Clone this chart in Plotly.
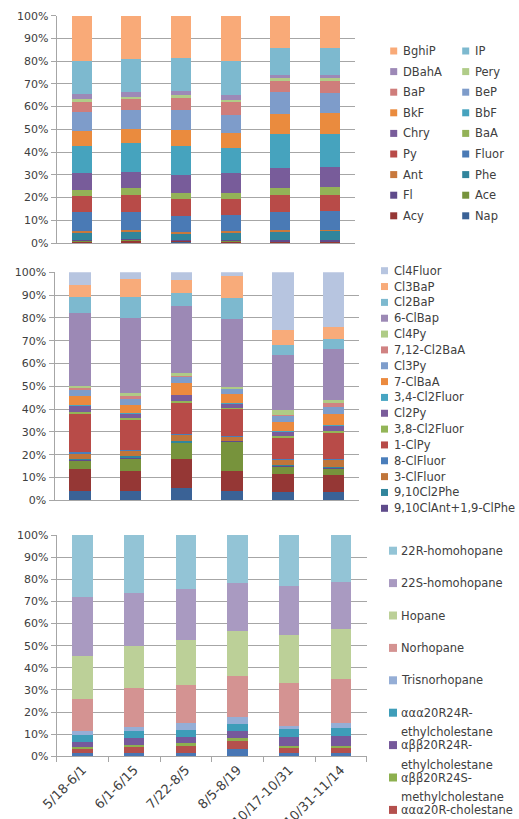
import plotly.graph_objects as go

W, H = 519, 819

periods = ["5/18-6/1", "6/1-6/15", "7/22-8/5", "8/5-8/19", "10/17-10/31", "10/31-11/14"]

# ---- PAHs (share of total, %) ----
nap = [0.4, 0.5, 1.0, 0.4, 0.2, 0.2]
acy = [0.2, 0.8, 0.1, 0.2, 0.5, 0.5]
ace = [0.6, 0.3, 0.1, 0.5, 0.1, 0.1]
fl = [0.2, 0.2, 0.1, 0.2, 0.4, 0.4]
phe = [3.3, 3.2, 3.0, 3.4, 3.8, 4.3]
ant = [0.6, 0.7, 0.5, 0.6, 0.7, 0.2]
fluor = [8.2, 7.8, 7.2, 7.2, 7.8, 8.3]
py = [7.3, 7.8, 7.4, 6.9, 7.8, 7.3]
baa = [2.4, 2.7, 2.7, 2.8, 2.8, 3.4]
chry = [7.4, 7.2, 8.0, 8.4, 9.0, 8.9]
bbf = [12.2, 12.6, 12.7, 11.3, 14.7, 14.2]
bkf = [6.5, 6.4, 6.9, 6.4, 8.8, 9.4]
bep = [8.2, 8.3, 8.8, 7.9, 9.7, 8.7]
bap = [5.0, 4.8, 5.4, 5.8, 5.0, 5.5]
pery = [0.8, 0.9, 1.0, 0.9, 1.1, 1.0]
dbaha = [2.2, 2.1, 2.0, 2.0, 1.5, 1.5]
ip = [14.6, 14.8, 14.6, 15.2, 12.1, 12.1]
bghip = [19.9, 18.9, 18.5, 19.9, 14.0, 14.0]

pah_names = ["Nap", "Acy", "Ace", "Fl", "Phe", "Ant", "Fluor", "Py", "BaA", "Chry",
             "BbF", "BkF", "BeP", "BaP", "Pery", "DBahA", "IP", "BghiP"]
pah_values = [nap, acy, ace, fl, phe, ant, fluor, py, baa, chry,
              bbf, bkf, bep, bap, pery, dbaha, ip, bghip]
pah_colors = ["#3A6296", "#953735", "#77933C", "#5F4B8B", "#31859C", "#C8783C",
              "#4A7AB5", "#B84B48", "#93B257", "#785C9A", "#46A3BE", "#EA8B3E",
              "#7E9CCA", "#CF7D7B", "#B0CC88", "#9D89B7", "#7DB9CF", "#F9AA78"]

# ---- Chlorinated PAHs (share of total, %) ----
cl_a = [4.1, 4.1, 5.6, 4.1, 3.7, 3.7]
cl_b = [9.8, 8.9, 12.7, 8.9, 7.8, 7.3]
cl_c = [3.5, 5.2, 6.7, 12.7, 3.3, 2.9]
cl_910ant_19phe = [0.2, 0.5, 0.3, 0.2, 0.2, 0.2]
cl2_910phe = [0.3, 0.6, 0.8, 0.3, 0.5, 0.5]
cl_3fluor = [2.7, 2.3, 2.7, 1.5, 2.3, 3.2]
cl_8fluor = [0.4, 0.5, 0.3, 0.5, 0.2, 0.2]
cl_1py = [17.0, 13.4, 13.7, 11.8, 9.5, 11.6]
cl2_38fluor = [0.8, 0.6, 0.9, 0.6, 0.6, 0.7]
cl2_py = [2.5, 1.8, 2.5, 1.8, 2.0, 2.3]
cl2_34fluor = [0.3, 0.2, 0.2, 0.2, 0.2, 0.4]
cl_7baa = [4.1, 3.6, 4.9, 4.2, 4.2, 4.8]
cl3_py = [2.9, 2.6, 2.7, 2.0, 2.4, 3.0]
cl2_712baa = [0.5, 1.4, 0.3, 0.2, 0.6, 1.9]
cl4_py = [0.9, 1.4, 1.5, 0.6, 1.9, 1.1]
cl_6bap = [32.0, 32.7, 29.6, 29.8, 24.3, 22.5]
cl2_bap = [7.3, 9.3, 5.3, 9.2, 4.4, 4.4]
cl3_bap = [5.3, 8.0, 5.9, 9.8, 6.5, 5.4]
cl4_fluor = [5.4, 2.9, 3.4, 1.6, 25.4, 23.9]

clpah_names = ["Series 1", "Series 2", "Series 3", "9,10ClAnt+1,9-ClPhe", "9,10Cl2Phe",
               "3-ClFluor", "8-ClFluor", "1-ClPy", "3,8-Cl2Fluor", "Cl2Py", "3,4-Cl2Fluor",
               "7-ClBaA", "Cl3Py", "7,12-Cl2BaA", "Cl4Py", "6-ClBap", "Cl2BaP", "Cl3BaP",
               "Cl4Fluor"]
clpah_values = [cl_a, cl_b, cl_c, cl_910ant_19phe, cl2_910phe, cl_3fluor, cl_8fluor,
                cl_1py, cl2_38fluor, cl2_py, cl2_34fluor, cl_7baa, cl3_py, cl2_712baa,
                cl4_py, cl_6bap, cl2_bap, cl3_bap, cl4_fluor]
clpah_colors = ["#3A6296", "#953735", "#77933C", "#5F4B8B", "#31859C", "#C0753A",
                "#4A7EBB", "#B84B48", "#93B557", "#7A5C9B", "#47A5C2", "#EB8A3F",
                "#7E9DCB", "#D08282", "#AFCB86", "#9C89B5", "#7DB9CF", "#F8AB7A",
                "#B7C5E0"]
clpah_legend_count = 16

# ---- Steranes and hopanes (share of total, %) ----
ster_a = [1.6, 1.6, 1.6, 3.2, 1.5, 1.5]
aaa20r_chol = [1.8, 2.6, 3.1, 3.9, 2.7, 2.4]
abb20r24s_methyl = [0.9, 0.9, 1.2, 1.0, 0.6, 0.9]
abb20r24r_ethyl = [2.3, 3.2, 3.0, 3.2, 3.9, 4.5]
aaa20r24r_ethyl = [3.2, 3.0, 3.0, 3.4, 3.6, 3.6]
trisnorhopane = [1.5, 1.8, 3.0, 2.9, 1.5, 2.0]
norhopane = [14.4, 17.6, 17.5, 18.8, 19.5, 19.9]
hopane = [19.6, 19.1, 20.2, 20.1, 21.5, 22.7]
homohopane_22s = [26.7, 23.8, 23.0, 21.7, 22.3, 21.3]
homohopane_22r = [28.0, 26.4, 24.4, 21.8, 22.9, 21.2]

hop_names = ["Series 1", "ααα20R-cholestane", "αββ20R24S-\nmethylcholestane",
             "αββ20R24R-\nethylcholestane", "ααα20R24R-\nethylcholestane",
             "Trisnorhopane", "Norhopane", "Hopane", "22S-homohopane", "22R-homohopane"]
hop_values = [ster_a, aaa20r_chol, abb20r24s_methyl, abb20r24r_ethyl, aaa20r24r_ethyl,
              trisnorhopane, norhopane, hopane, homohopane_22s, homohopane_22r]
hop_colors = ["#4876B4", "#B4504D", "#8DB04F", "#76599B", "#3E9DB9",
              "#95AED6", "#D49392", "#BCD098", "#A99AC1", "#93C4D6"]
hop_legend_count = 9

FONT = "DejaVu Sans"
TEXT = "#404040"
GRID = "#A6A6A6"


def px_x(v):
    return v / W


def px_y(v):
    return 1 - v / H


fig = go.Figure()

panels = [
    # names, values, colors, axis suffix, bar width, x px range, y px range
    (pah_names, pah_values, pah_colors, "", 0.40, (56.7, 355.0), (15.7, 243.0)),
    (clpah_names, clpah_values, clpah_colors, "2", 0.42, (54.5, 359.0), (272.3, 500.3)),
    (hop_names, hop_values, hop_colors, "3", 0.39, (56.7, 366.7), (535.0, 756.3)),
]

for names, values, colors, sfx, bw, (xl, xr), (yt, yb) in panels:
    for name, vals, col in zip(names, values, colors):
        fig.add_trace(go.Bar(
            x=periods, y=vals, name=name.replace("\n", ""),
            marker=dict(color=col, line=dict(width=0)),
            width=bw, showlegend=False,
            xaxis="x" + sfx, yaxis="y" + sfx,
        ))
    xa = dict(
        domain=[px_x(xl), px_x(xr)], anchor="y" + sfx, type="category",
        showline=True, linecolor=GRID, linewidth=1, showgrid=False,
        automargin=False, fixedrange=True,
    )
    if sfx == "3":
        xa.update(ticks="outside", tickson="boundaries", ticklen=5, tickcolor=GRID,
                  tickangle=-45, tickfont=dict(family=FONT, size=13, color=TEXT))
    else:
        xa.update(showticklabels=False, ticks="")
    ya = dict(
        domain=[px_y(yb), px_y(yt)], anchor="x" + sfx, range=[0, 100], dtick=10,
        ticksuffix="%", showline=True, linecolor=GRID, linewidth=1,
        showgrid=True, gridcolor=GRID, gridwidth=1, zeroline=False,
        ticks="outside", ticklen=5, tickcolor=GRID,
        tickfont=dict(family=FONT, size=11, color=TEXT),
        automargin=False, fixedrange=True,
    )
    fig.layout["xaxis" + sfx] = xa
    fig.layout["yaxis" + sfx] = ya


def add_legend(names, colors, x0, y0, dy, ncol=1, dx=0.0, sq=7, gap=4.5,
               size=11.5, line_gap=19.5):
    """Key drawn as colour squares plus labels, last series first."""
    for k, (name, col) in enumerate(zip(names[::-1], colors[::-1])):
        r, c = divmod(k, ncol)
        cx = x0 + c * dx
        cy = y0 + r * dy
        fig.add_shape(type="rect", xref="paper", yref="paper",
                      x0=px_x(cx), x1=px_x(cx + sq),
                      y0=px_y(cy - sq / 2), y1=px_y(cy + sq / 2),
                      fillcolor=col, line=dict(width=0), layer="above")
        for j, line in enumerate(name.split("\n")):
            fig.add_annotation(x=px_x(cx + sq + gap), y=px_y(cy + j * line_gap),
                               xref="paper", yref="paper", text=line,
                               showarrow=False, xanchor="left", yanchor="middle",
                               borderpad=0,
                               font=dict(family=FONT, size=size, color=TEXT))


add_legend(pah_names, pah_colors, x0=390.2, y0=51.0, dy=20.6, ncol=2, dx=72.0)
add_legend(clpah_names[-clpah_legend_count:], clpah_colors[-clpah_legend_count:],
           x0=381.0, y0=270.7, dy=15.84)
add_legend(hop_names[-hop_legend_count:], hop_colors[-hop_legend_count:],
           x0=389.0, y0=550.7, dy=32.4, sq=8, gap=3.0)

fig.update_layout(
    template="none",
    width=W, height=H,
    margin=dict(l=0, r=0, t=0, b=0),
    paper_bgcolor="white", plot_bgcolor="white",
    barmode="stack", barnorm="percent",
    showlegend=False,
    font=dict(family=FONT, size=11, color=TEXT),
)

fig.write_html("out.html")
